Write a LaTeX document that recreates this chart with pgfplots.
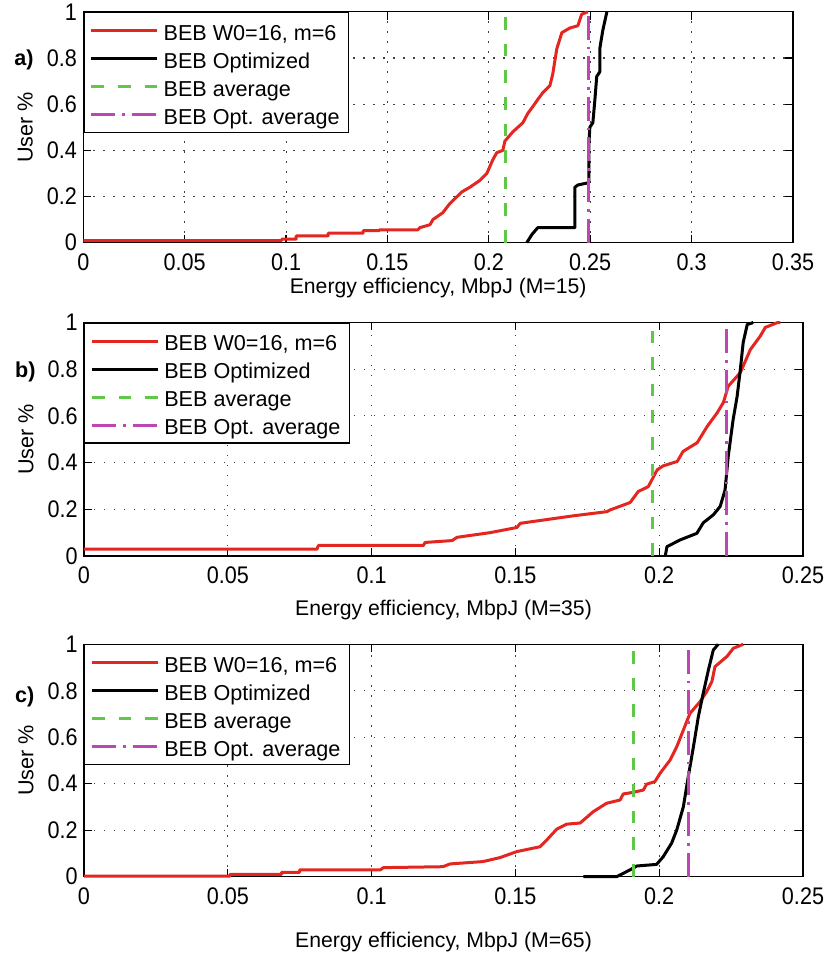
\documentclass[border=0pt]{standalone}
\usepackage{fontspec}
\setmainfont{Liberation Sans}
\newfontfamily\tickfont[FakeStretch=0.9]{Liberation Sans}
\usepackage{pgfplots}
\pgfplotsset{compat=1.18}
\definecolor{mred}{RGB}{228,38,32}
\definecolor{mgreen}{RGB}{95,200,70}
\definecolor{mmag}{RGB}{190,70,180}
\pgfplotsset{
 myaxis/.style={
  scale only axis, clip=false,
  font=\fontsize{10.8}{13}\selectfont,
  ymin=0, ymax=1,
  ytick={0,0.2,0.4,0.6,0.8,1},
  yticklabels={0,0.2,0.4,0.6,0.8,1},
  tick align=inside, tick pos=both,
  major tick length=4pt,
  axis line style={line width=0.6pt},
  every tick/.style={black, line width=0.6pt},
  grid=major,
  major grid style={black!75, line width=0.55pt, dash pattern=on 0.6pt off 4.4pt},
  every tick label/.append style={font=\tickfont\fontsize{12}{14}\selectfont},
  xticklabel style={inner sep=0pt, yshift=-5.2pt},
  yticklabel style={inner sep=0pt, xshift=-3pt},
  ylabel={User \%},
  ylabel style={at={([xshift=-25pt]axis description cs:0,0.5)}, anchor=south, inner sep=0pt},
  xlabel style={at={(axis description cs:0.5,0)}, anchor=north, inner sep=0pt, font=\fontsize{10.6}{13}\selectfont},
  legend cell align=left,
  legend style={at={(0,1)}, anchor=north west, draw=black, line width=0.6pt, fill=white,
    inner xsep=3pt, inner ysep=2pt, column sep=0.85pt, row sep=0pt,
    nodes={inner sep=1.5pt, text height=10.4pt, text depth=0.6pt},
    font=\fontsize{10.8}{13}\selectfont},
  legend image code/.code={\draw[#1] (2.15pt,0pt) -- (35.15pt,0pt);},
 },
 redl/.style={color=mred, line width=1.5pt, line join=round},
 blkl/.style={color=black, line width=1.5pt, line join=round},
 grnl/.style={color=mgreen, line width=1.5pt, dash pattern=on 6.3pt off 7pt},
 magl/.style={color=mmag, line width=1.5pt, dash pattern=on 12pt off 3.5pt on 1.3pt off 3.5pt},
}
\begin{document}
\begin{tikzpicture}
\useasboundingbox (0,0) rectangle (413.5pt,478pt);
% ---------------- a)
\begin{axis}[myaxis, at={(41.65pt,356.65pt)}, anchor=south west,
  width=354.85pt, height=115.4pt, xmin=0, xmax=0.35,
  xtick={0,0.05,0.1,0.15,0.2,0.25,0.3,0.35},
  xticklabels={0,0.05,0.1,0.15,0.2,0.25,0.3,0.35},
  xlabel={Energy efficiency, MbpJ (M=15)}, xlabel style={yshift=-17.3pt}]
\addplot[redl] coordinates {(0,0.009) (0.0978,0.009) (0.0978,0.015) (0.105,0.015) (0.105,0.029) (0.1207,0.029) (0.1207,0.041) (0.138,0.041) (0.138,0.052) (0.146,0.052) (0.146,0.056) (0.165,0.056) (0.166,0.065) (0.171,0.078) (0.1724,0.10) (0.1773,0.13) (0.1808,0.17) (0.1867,0.22) (0.1906,0.24) (0.1956,0.27) (0.1990,0.30) (0.2020,0.36) (0.2039,0.39) (0.2069,0.40) (0.2079,0.44) (0.2118,0.48) (0.2168,0.52) (0.2192,0.56) (0.2217,0.59) (0.2241,0.62) (0.2266,0.65) (0.2301,0.68) (0.2315,0.73) (0.2335,0.84) (0.2360,0.91) (0.2399,0.93) (0.2439,0.94) (0.2458,0.99) (0.2488,1.0)};
\addlegendentry{BEB W0=16, m=6}
\addplot[blkl] coordinates {(0.2187,0) (0.2212,0.035) (0.2241,0.065) (0.2424,0.065) (0.2424,0.24) (0.2439,0.25) (0.2493,0.26) (0.2493,0.42) (0.2498,0.5) (0.2513,0.52) (0.2523,0.62) (0.2532,0.72) (0.2547,0.74) (0.2547,0.84) (0.2562,0.92) (0.2582,1.0)};
\addlegendentry{BEB Optimized}
\addplot[grnl] coordinates {(0.2082,0) (0.2082,1)};
\addlegendentry{BEB average}
\addplot[magl] coordinates {(0.2493,0) (0.2493,1)};
\addlegendentry{BEB Opt. average}
\node[anchor=west, font=\bfseries\fontsize{10.8}{13}\selectfont] at ([xshift=-38pt]rel axis cs:0,0.79) {a)};
\end{axis}
% ---------------- b)
\begin{axis}[myaxis, at={(42pt,200pt)}, anchor=south west,
  width=359.5pt, height=116.75pt, xmin=0, xmax=0.25,
  xtick={0,0.05,0.1,0.15,0.2,0.25},
  xticklabels={0,0.05,0.1,0.15,0.2,0.25},
  xlabel={Energy efficiency, MbpJ (M=35)}, xlabel style={yshift=-22pt}]
\addplot[redl] coordinates {(0,0.029) (0.081,0.029) (0.0815,0.045) (0.118,0.045) (0.1186,0.058) (0.128,0.066) (0.1297,0.08) (0.1412,0.10) (0.1505,0.122) (0.1517,0.14) (0.1701,0.172) (0.1819,0.19) (0.1829,0.197) (0.1899,0.229) (0.1927,0.276) (0.1962,0.297) (0.1993,0.369) (0.2014,0.386) (0.2063,0.405) (0.2083,0.448) (0.2132,0.485) (0.2167,0.555) (0.2202,0.614) (0.2223,0.657) (0.2240,0.727) (0.2282,0.785) (0.2317,0.884) (0.2351,0.941) (0.2369,0.979) (0.2410,0.999) (0.2421,1.0)};
\addlegendentry{BEB W0=16, m=6}
\addplot[blkl] coordinates {(0.2021,0) (0.2027,0.04) (0.2073,0.069) (0.2131,0.097) (0.2153,0.142) (0.2188,0.176) (0.2212,0.212) (0.2229,0.283) (0.2240,0.426) (0.2257,0.584) (0.2271,0.684) (0.2282,0.798) (0.2292,0.914) (0.2306,0.991) (0.2327,1.0)};
\addlegendentry{BEB Optimized}
\addplot[grnl] coordinates {(0.1978,0) (0.1978,1)};
\addlegendentry{BEB average}
\addplot[magl] coordinates {(0.2235,0) (0.2235,1)};
\addlegendentry{BEB Opt. average}
\node[anchor=west, font=\bfseries\fontsize{10.8}{13}\selectfont] at ([xshift=-38pt]rel axis cs:0,0.79) {b)};
\end{axis}
% ---------------- c)
\begin{axis}[myaxis, at={(42pt,39.65pt)}, anchor=south west,
  width=359.5pt, height=116.2pt, xmin=0, xmax=0.25,
  xtick={0,0.05,0.1,0.15,0.2,0.25},
  xticklabels={0,0.05,0.1,0.15,0.2,0.25},
  xlabel={Energy efficiency, MbpJ (M=65)}, xlabel style={yshift=-27.5pt}]
\addplot[redl] coordinates {(0,0.003) (0.0508,0.003) (0.0508,0.01) (0.0687,0.01) (0.0687,0.019) (0.075,0.019) (0.075,0.029) (0.103,0.029) (0.1041,0.039) (0.1248,0.043) (0.1273,0.055) (0.1387,0.065) (0.1446,0.082) (0.1505,0.108) (0.1586,0.129) (0.1609,0.158) (0.1644,0.205) (0.1678,0.226) (0.1725,0.231) (0.1771,0.280) (0.1817,0.316) (0.1864,0.330) (0.1875,0.356) (0.1910,0.363) (0.1945,0.373) (0.1956,0.398) (0.1985,0.409) (0.2003,0.445) (0.2038,0.502) (0.2061,0.559) (0.2084,0.631) (0.2107,0.703) (0.2142,0.753) (0.2165,0.796) (0.2183,0.839) (0.2194,0.904) (0.2235,0.947) (0.2258,0.983) (0.2292,1.0)};
\addlegendentry{BEB W0=16, m=6}
\addplot[blkl] coordinates {(0.1736,0) (0.1852,0) (0.1898,0.029) (0.1922,0.046) (0.1991,0.053) (0.2014,0.086) (0.2043,0.144) (0.2061,0.201) (0.2084,0.301) (0.2101,0.430) (0.2119,0.559) (0.2136,0.688) (0.2153,0.789) (0.2171,0.889) (0.2188,0.975) (0.2205,1.0)};
\addlegendentry{BEB Optimized}
\addplot[grnl] coordinates {(0.1910,0) (0.1910,1)};
\addlegendentry{BEB average}
\addplot[magl] coordinates {(0.2101,0) (0.2101,1)};
\addlegendentry{BEB Opt. average}
\node[anchor=west, font=\bfseries\fontsize{10.8}{13}\selectfont] at ([xshift=-38pt]rel axis cs:0,0.773) {c)};
\end{axis}
\end{tikzpicture}
\end{document}
